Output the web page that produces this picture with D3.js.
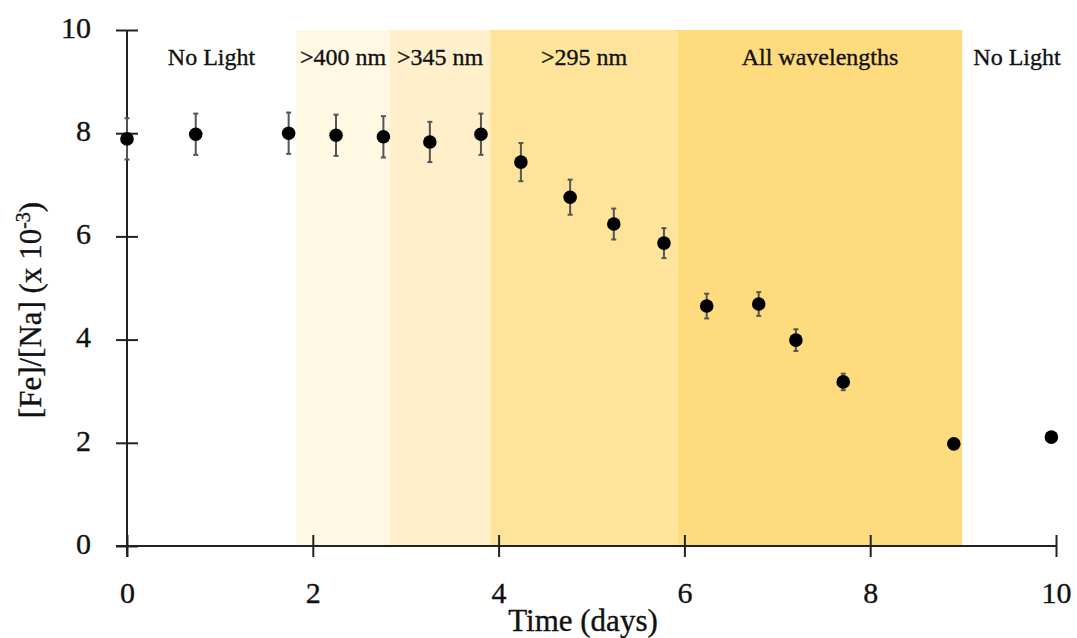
<!DOCTYPE html>
<html>
<head>
<meta charset="utf-8">
<script src="https://cdn.jsdelivr.net/npm/d3@7"></script>
<style>
  html, body { margin: 0; padding: 0; background: #fff; }
  svg { display: block; font-family: "Liberation Serif", "DejaVu Serif", serif; }
  text { fill: #111; stroke: #111; stroke-width: 0.35px; }
</style>
</head>
<body>
<svg id="chart" width="1077" height="638"></svg>
<script>
// Sample times (days), iron/sodium ratio (x 10^-3) and one-sigma uncertainty
const days  = [0, 0.74, 1.74, 2.25, 2.76, 3.26, 3.81, 4.24, 4.77, 5.24, 5.78, 6.24, 6.80, 7.20, 7.71, 8.90, 9.95];
const ratio = [7.89, 7.98, 8.00, 7.96, 7.93, 7.83, 7.98, 7.44, 6.76, 6.24, 5.87, 4.65, 4.69, 3.99, 3.18, 1.98, 2.11];
const ratioErr = [0.40, 0.40, 0.40, 0.40, 0.40, 0.39, 0.40, 0.37, 0.34, 0.30, 0.29, 0.24, 0.23, 0.21, 0.16, 0, 0];

// Illumination periods
const bandLabels = ["No Light", ">400 nm", ">345 nm", ">295 nm", "All wavelengths", "No Light"];
const bandStart  = [0, 1.82, 2.83, 3.91, 5.93, 8.99];
const bandEnd    = [1.82, 2.83, 3.91, 5.93, 8.99, 10.17];
const bandFill   = [null, "#FFF8E3", "#FFF0CB", "#FEE49A", "#FEDC7D", null];

const xTicks = [0, 2, 4, 6, 8, 10];
const yTicks = [0, 2, 4, 6, 8, 10];

const svg = d3.select("#chart");
const x = d3.scaleLinear().domain([0, 10]).range([127, 1056]);
const y = d3.scaleLinear().domain([0, 10]).range([546, 30]);

// Shaded wavelength bands
const bands = bandLabels.map((label, i) => ({ label, s: bandStart[i], e: bandEnd[i], fill: bandFill[i] }));
svg.append("g").selectAll("rect")
  .data(bands.filter(b => b.fill))
  .join("rect")
  .attr("x", d => x(d.s))
  .attr("width", d => x(d.e) - x(d.s))
  .attr("y", y(10))
  .attr("height", y(0) - y(10))
  .attr("fill", d => d.fill);

svg.append("g").selectAll("text")
  .data(bands)
  .join("text")
  .attr("x", d => x((d.s + d.e) / 2))
  .attr("y", 65)
  .attr("text-anchor", "middle")
  .attr("font-size", 24)
  .text(d => d.label);

// Axes with ticks crossing the axis line
const xAxis = svg.append("g")
  .attr("transform", `translate(0,${y(0)})`)
  .call(d3.axisBottom(x).tickValues(xTicks).tickFormat(d3.format("d")).tickSize(11).tickPadding(27));
xAxis.select(".domain").remove();
xAxis.selectAll(".tick line").attr("y1", -11).attr("y2", 11).attr("stroke", "#222").attr("stroke-width", 2);
xAxis.selectAll(".tick text").attr("font-size", 30).attr("font-family", "Liberation Serif").attr("dy", "0.62em");
xAxis.append("line").attr("x1", 116).attr("x2", x(10)).attr("stroke", "#222").attr("stroke-width", 2);

const yAxis = svg.append("g")
  .attr("transform", `translate(${x(0)},0)`)
  .call(d3.axisLeft(y).tickValues(yTicks).tickFormat(d3.format("d")).tickSize(11).tickPadding(25));
yAxis.select(".domain").remove();
yAxis.selectAll(".tick line").attr("x1", -11).attr("x2", 11).attr("stroke", "#222").attr("stroke-width", 2);
yAxis.selectAll(".tick text").attr("font-size", 30).attr("font-family", "Liberation Serif").attr("dy", "0.24em");
yAxis.append("line").attr("y1", y(10)).attr("y2", 557).attr("stroke", "#222").attr("stroke-width", 2);

// Axis titles
svg.append("text")
  .attr("x", 583).attr("y", 631)
  .attr("text-anchor", "middle")
  .attr("font-size", 31)
  .text("Time (days)");

const yTitle = svg.append("text")
  .attr("transform", "translate(41,310) rotate(-90)")
  .attr("text-anchor", "middle")
  .attr("font-size", 31);
yTitle.append("tspan").text("[Fe]/[Na] (x 10");
yTitle.append("tspan").attr("dy", -11).attr("font-size", 20).text("-3");
yTitle.append("tspan").attr("dy", 11).text(")");

// Data points with error bars
const pts = days.map((d, i) => ({ t: d, v: ratio[i], e: ratioErr[i] }));
const eb = svg.append("g").attr("stroke", "#555").attr("stroke-width", 2);
const withErr = pts.filter(p => p.e > 0);
eb.selectAll("line.bar").data(withErr).join("line").attr("class", "bar")
  .attr("x1", p => x(p.t)).attr("x2", p => x(p.t))
  .attr("y1", p => y(p.v + p.e)).attr("y2", p => y(p.v - p.e));
eb.selectAll("line.capT").data(withErr).join("line").attr("class", "capT")
  .attr("x1", p => x(p.t) - 2.5).attr("x2", p => x(p.t) + 2.5)
  .attr("y1", p => y(p.v + p.e)).attr("y2", p => y(p.v + p.e));
eb.selectAll("line.capB").data(withErr).join("line").attr("class", "capB")
  .attr("x1", p => x(p.t) - 2.5).attr("x2", p => x(p.t) + 2.5)
  .attr("y1", p => y(p.v - p.e)).attr("y2", p => y(p.v - p.e));

svg.append("g").selectAll("circle")
  .data(pts)
  .join("circle")
  .attr("cx", p => x(p.t))
  .attr("cy", p => y(p.v))
  .attr("r", 6.8)
  .attr("fill", "#000");
</script>
</body>
</html>
